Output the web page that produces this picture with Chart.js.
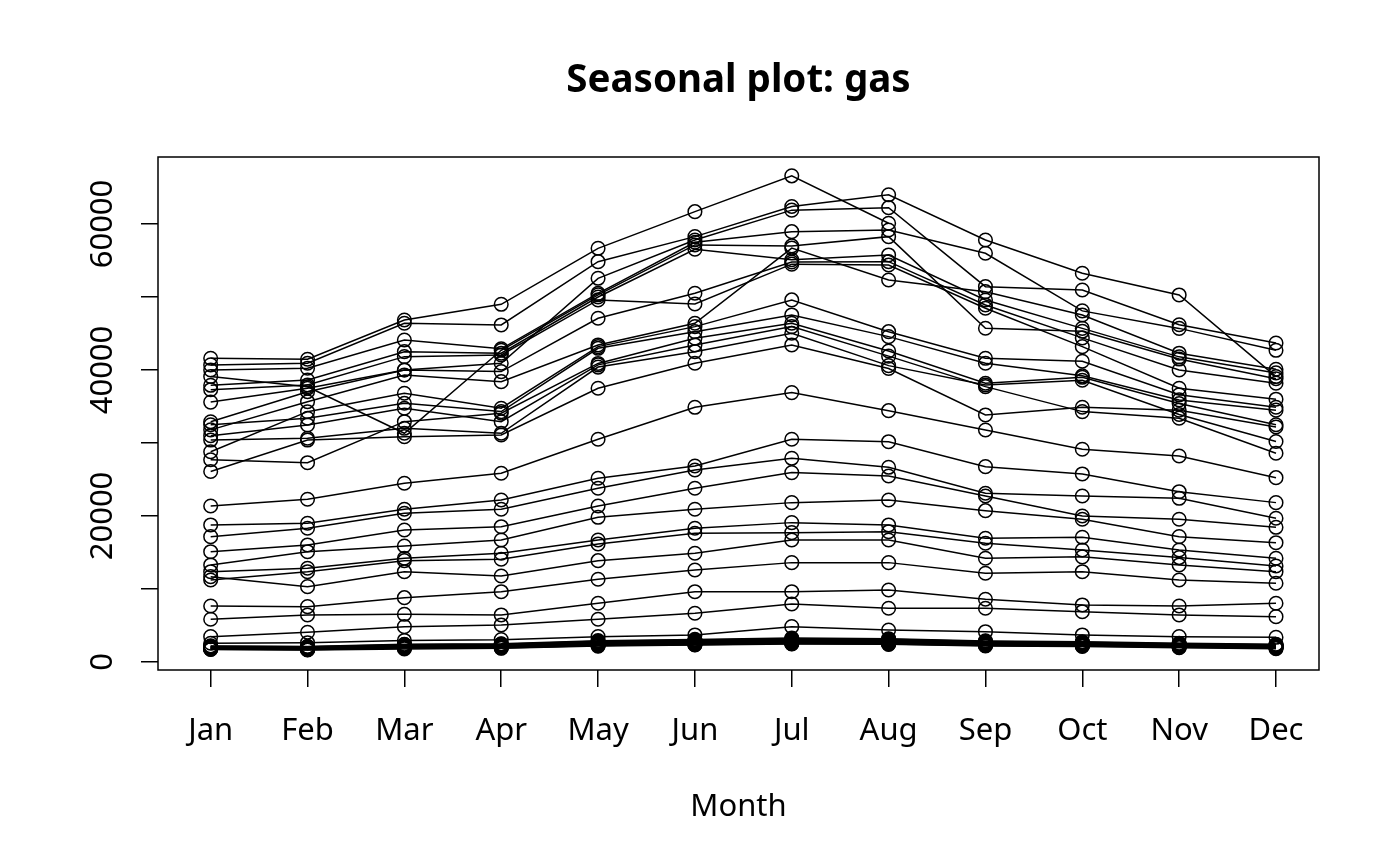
<!DOCTYPE html>
<html>
<head>
<meta charset="utf-8">
<title>Seasonal plot: gas</title>
<script src="https://cdn.jsdelivr.net/npm/chart.js@4.4.1/dist/chart.umd.min.js"></script>
<style>
  html, body { margin: 0; padding: 0; background: #fff; }
  #wrap { width: 1400px; height: 866px; }
</style>
</head>
<body>
<div id="wrap"><canvas id="chart" width="1400" height="866"></canvas></div>
<script>
const months = ["Jan", "Feb", "Mar", "Apr", "May", "Jun", "Jul", "Aug", "Sep", "Oct", "Nov", "Dec"];
const yTicks = [0, 10000, 20000, 30000, 40000, 50000, 60000];
const yTickLabels = [0, 20000, 40000, 60000];

// monthly gas production, one array per year
const y1956 = [1709, 1646, 1794, 1878, 2173, 2321, 2468, 2416, 2184, 2121, 1962, 1825];
const y1957 = [1751, 1688, 1920, 1908, 2241, 2367, 2520, 2468, 2251, 2183, 2017, 1902];
const y1958 = [1780, 1712, 1943, 1985, 2270, 2419, 2588, 2512, 2306, 2239, 2066, 1957];
const y1959 = [1815, 1751, 1982, 2036, 2335, 2471, 2632, 2579, 2371, 2284, 2124, 1999];
const y1960 = [1862, 1789, 2040, 2069, 2384, 2533, 2705, 2648, 2420, 2338, 2161, 2046];
const y1961 = [1894, 1818, 2079, 2120, 2441, 2597, 2760, 2701, 2472, 2377, 2222, 2093];
const y1962 = [1931, 1866, 2110, 2171, 2505, 2656, 2827, 2768, 2530, 2436, 2254, 2130];
const y1963 = [1970, 1902, 2175, 2214, 2569, 2722, 2894, 2831, 2579, 2488, 2311, 2181];
const y1964 = [2012, 1947, 2219, 2270, 2626, 2790, 2958, 2902, 2640, 2536, 2358, 2222];
const y1965 = [2058, 1985, 2270, 2321, 2699, 2861, 3035, 2966, 2694, 2593, 2409, 2270];
const y1966 = [2101, 2033, 2318, 2380, 2770, 2933, 3112, 3040, 2751, 2650, 2458, 2318];
const y1967 = [2150, 2079, 2372, 2439, 2842, 3011, 3190, 3109, 2820, 2709, 2512, 2367];
const y1968 = [2205, 2130, 2431, 2497, 2921, 3093, 3275, 3190, 2887, 2771, 2566, 2420];
const y1969 = [2560, 2640, 2950, 3060, 3470, 3700, 4840, 4380, 4150, 3700, 3470, 3380];
const y1970 = [3470, 4070, 4840, 5070, 5850, 6670, 7950, 7360, 7360, 6890, 6440, 6210];
const y1971 = [5850, 6440, 6530, 6440, 8040, 9630, 9630, 9860, 8590, 7810, 7670, 8040];
const y1972 = [7670, 7580, 8810, 9630, 11330, 12600, 13610, 13610, 12150, 12370, 11230, 10780];
const y1973 = [11690, 10320, 12370, 11780, 13880, 14890, 16710, 16710, 14210, 14400, 13290, 12370];
const y1974 = [11230, 12370, 13880, 14070, 16170, 17630, 17720, 17850, 16260, 15340, 14300, 13150];
const y1975 = [12370, 12840, 14200, 14890, 16710, 18320, 19090, 18770, 16950, 17080, 15340, 14210];
const y1976 = [13290, 15110, 15890, 16710, 19820, 20920, 21830, 22190, 20730, 19550, 17170, 16340];
const y1977 = [15110, 16030, 18080, 18530, 21370, 23800, 25940, 25480, 22740, 20000, 19550, 18450];
const y1978 = [17170, 18320, 20370, 20920, 23800, 26300, 27900, 26670, 23110, 22740, 22420, 19690];
const y1979 = [18770, 19000, 20920, 22190, 25170, 26850, 30510, 30180, 26760, 25760, 23330, 21830];
const y1980 = [21370, 22290, 24480, 25850, 30510, 34890, 36900, 34430, 31780, 29140, 28220, 25250];
const y1981 = [26100, 30400, 30870, 31100, 37500, 40920, 43430, 40200, 33840, 34900, 34500, 32200];
const y1982 = [30400, 30650, 32010, 31330, 40400, 42510, 45030, 40600, 37950, 38600, 33900, 30200];
const y1983 = [31000, 32470, 34760, 32920, 40700, 43430, 45940, 41900, 37720, 34300, 33400, 28600];
const y1984 = [27700, 27300, 32920, 34070, 40900, 44350, 46400, 42600, 38180, 39000, 35400, 32500];
const y1985 = [32500, 33390, 35440, 34300, 42970, 45250, 47540, 44570, 40920, 39200, 35900, 34500];
const y1986 = [28800, 34290, 36810, 34760, 43200, 45940, 49600, 45250, 41600, 41200, 36600, 34900];
const y1987 = [31800, 35660, 39320, 38400, 43430, 46400, 56700, 52330, 50730, 47540, 42300, 40100];
const y1988 = [39100, 37700, 31330, 42700, 50300, 57130, 57000, 58270, 45720, 45300, 41500, 38800];
const y1989 = [32900, 37030, 40000, 39780, 47090, 50510, 54800, 54840, 48910, 44400, 40000, 38200];
const y1990 = [37300, 37950, 41830, 42060, 49600, 49050, 54500, 54390, 48460, 43200, 37500, 36000];
const y1991 = [37900, 38630, 42510, 42300, 50000, 56540, 55100, 55760, 49590, 45700, 41800, 39600];
const y1992 = [35600, 37500, 40000, 40920, 52560, 57810, 61900, 62240, 51420, 50960, 46200, 43700];
const y1993 = [40000, 40240, 44110, 42900, 50500, 57500, 58950, 59180, 55990, 48100, 45700, 42700];
const y1994 = [40700, 40920, 46400, 46170, 54840, 58270, 62400, 64000, 57810, 53250, 50280, 39100];
const y1995 = [41600, 41470, 46850, 49000, 56670, 61690, 66600, 60100];

const years = [
  [1956, y1956], [1957, y1957], [1958, y1958], [1959, y1959], [1960, y1960],
  [1961, y1961], [1962, y1962], [1963, y1963], [1964, y1964], [1965, y1965],
  [1966, y1966], [1967, y1967], [1968, y1968], [1969, y1969], [1970, y1970],
  [1971, y1971], [1972, y1972], [1973, y1973], [1974, y1974], [1975, y1975],
  [1976, y1976], [1977, y1977], [1978, y1978], [1979, y1979], [1980, y1980],
  [1981, y1981], [1982, y1982], [1983, y1983], [1984, y1984], [1985, y1985],
  [1986, y1986], [1987, y1987], [1988, y1988], [1989, y1989], [1990, y1990],
  [1991, y1991], [1992, y1992], [1993, y1993], [1994, y1994], [1995, y1995]
];

const FONT = "'Noto Sans', 'Open Sans', sans-serif";

// box round the plot region, rotated y labels, titles (R base graphics look)
const rFrame = {
  id: "rFrame",
  afterDraw(chart) {
    const { ctx, chartArea: a, scales } = chart;
    ctx.save();
    ctx.strokeStyle = "#000";
    ctx.lineWidth = 1.5;
    ctx.strokeRect(a.left, a.top, a.right - a.left, a.bottom - a.top);

    ctx.fillStyle = "#000";
    ctx.textAlign = "center";
    ctx.textBaseline = "alphabetic";

    ctx.font = "bold 38.5px " + FONT;
    ctx.fillText("Seasonal plot: gas", (a.left + a.right) / 2, 92);

    ctx.font = "31px " + FONT;
    ctx.fillText("Month", (a.left + a.right) / 2, 816);

    yTickLabels.forEach(v => {
      const y = scales.y.getPixelForValue(v);
      ctx.save();
      ctx.translate(112, y);
      ctx.rotate(-Math.PI / 2);
      ctx.fillText(String(v), 0, 0);
      ctx.restore();
    });
    ctx.restore();
  }
};

const datasets = years.map(([yr, vals]) => ({
  label: String(yr),
  data: vals.map((v, i) => ({ x: i + 1, y: v })),
  showLine: true,
  borderColor: "#000",
  borderWidth: 1.5,
  pointStyle: "circle",
  pointRadius: 6.8,
  pointBorderWidth: 1.5,
  pointBorderColor: "#000",
  pointBackgroundColor: "rgba(0,0,0,0)",
  tension: 0
}));

new Chart(document.getElementById("chart"), {
  type: "scatter",
  data: { datasets },
  plugins: [rFrame],
  options: {
    responsive: false,
    devicePixelRatio: 1,
    animation: false,
    layout: { padding: { left: 0, right: 81, top: 157, bottom: 0 } },
    plugins: {
      legend: { display: false },
      tooltip: { enabled: false },
      title: { display: false }
    },
    scales: {
      x: {
        type: "linear",
        min: 0.456,
        max: 12.444,
        afterBuildTicks: scale => { scale.ticks = months.map((m, i) => ({ value: i + 1 })); },
        afterFit: scale => { scale.height = 196; },
        grid: { display: true, drawOnChartArea: false, drawTicks: true, tickLength: 17, color: "#000", lineWidth: 1.5 },
        border: { display: false },
        ticks: {
          autoSkip: false,
          maxRotation: 0,
          padding: 26,
          color: "#000",
          font: { family: FONT, size: 31 },
          callback: value => months[Math.round(value) - 1] || ""
        }
      },
      y: {
        type: "linear",
        min: -1100,
        max: 69180,
        afterBuildTicks: scale => { scale.ticks = yTicks.map(v => ({ value: v })); },
        afterFit: scale => { scale.width = 158; },
        grid: { display: true, drawOnChartArea: false, drawTicks: true, tickLength: 17, color: "#000", lineWidth: 1.5 },
        border: { display: false },
        ticks: { display: false }
      }
    }
  }
});
</script>
</body>
</html>
